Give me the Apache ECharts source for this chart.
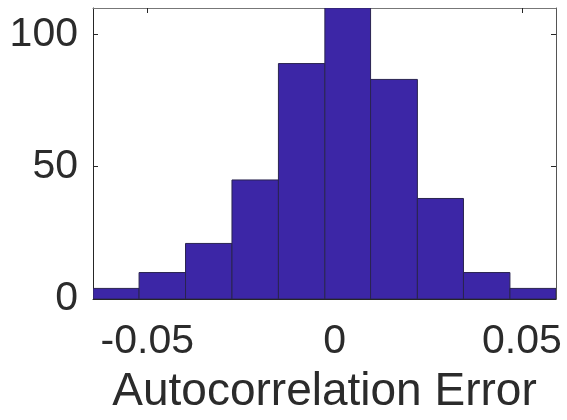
<!DOCTYPE html>
<html>
<head>
<meta charset="utf-8">
<script src="https://cdn.jsdelivr.net/npm/echarts@6/dist/echarts.min.js"></script>
<style>html,body{margin:0;padding:0;background:#fff}#c{width:567px;height:420px}</style>
</head>
<body>
<div id="c"></div>
<script>
// Histogram bin edges (Autocorrelation Error) and counts
var binEdges = [-0.0645, -0.0522, -0.0398, -0.0274, -0.0150, -0.0026, 0.0096, 0.0221, 0.0344, 0.0468, 0.0591];
var counts = [4, 10, 21, 45, 89, 110, 83, 38, 10, 4];
var xTicks = [-0.05, 0, 0.05];
var yTicks = [0, 50, 100];
var xTickLabels = ['-0.05', '0', '0.05'];
var xTitle = 'Autocorrelation Error';

var data = counts.map(function (c, i) { return [binEdges[i], binEdges[i + 1], c]; });
var font = 'Liberation Sans, Arial, Helvetica, sans-serif';
var axisCol = '#262626';
var textCol = '#2b2b2b';

var chart = echarts.init(document.getElementById('c'), null, {renderer: 'canvas'});
chart.setOption({
  animation: false,
  backgroundColor: '#fff',
  grid: {left: 93, top: 8, width: 463, height: 292.5, show: false},
  xAxis: [{
    type: 'value', min: binEdges[0], max: binEdges[binEdges.length - 1],
    position: 'bottom',
    axisLine: {show: true, onZero: false, lineStyle: {color: axisCol, width: 1}},
    axisTick: {show: true, inside: true, length: 5, customValues: xTicks, lineStyle: {color: axisCol}},
    axisLabel: {show: true, customValues: xTicks, margin: 22, fontSize: 41, fontFamily: font, color: textCol,
      formatter: function (v) { var i = xTicks.indexOf(v); return i >= 0 ? xTickLabels[i] : ''; }},
    splitLine: {show: false},
    name: xTitle, nameLocation: 'middle', nameGap: 70,
    nameTextStyle: {fontSize: 46, fontFamily: font, color: textCol}
  }, {
    type: 'value', min: binEdges[0], max: binEdges[binEdges.length - 1],
    position: 'top',
    axisLine: {show: true, onZero: false, lineStyle: {color: '#777', width: 1}},
    axisTick: {show: true, inside: true, length: 5, customValues: xTicks, lineStyle: {color: axisCol}},
    axisLabel: {show: false},
    splitLine: {show: false}
  }],
  yAxis: [{
    type: 'value', min: 0, max: 110,
    position: 'left',
    axisLine: {show: true, onZero: false, lineStyle: {color: axisCol, width: 1}},
    axisTick: {show: true, inside: true, length: 5, customValues: yTicks, lineStyle: {color: axisCol}},
    axisLabel: {show: true, customValues: yTicks, margin: 15, fontSize: 41, fontFamily: font, color: textCol},
    splitLine: {show: false}
  }, {
    type: 'value', min: 0, max: 110,
    position: 'right',
    axisLine: {show: true, onZero: false, lineStyle: {color: '#555', width: 1}},
    axisTick: {show: true, inside: true, length: 5, customValues: yTicks, lineStyle: {color: axisCol}},
    axisLabel: {show: false},
    splitLine: {show: false}
  }],
  series: [{
    type: 'custom',
    xAxisIndex: 0, yAxisIndex: 0,
    clip: true,
    renderItem: function (params, api) {
      var p0 = api.coord([api.value(0), api.value(2)]);
      var p1 = api.coord([api.value(1), 0]);
      return {
        type: 'rect',
        shape: {x: p0[0], y: p0[1], width: p1[0] - p0[0], height: p1[1] - p0[1]},
        style: {fill: '#3c26a6', stroke: '#2a2450', lineWidth: 1}
      };
    },
    encode: {x: [0, 1], y: 2},
    data: data
  }]
});
</script>
</body>
</html>
